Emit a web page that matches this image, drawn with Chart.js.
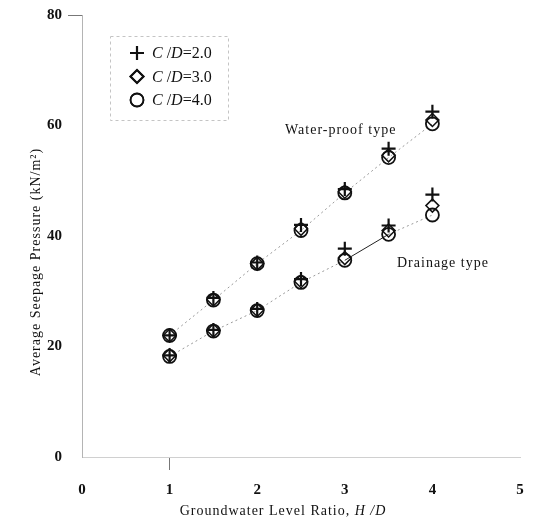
<!DOCTYPE html>
<html>
<head>
<meta charset="utf-8">
<script src="https://cdn.jsdelivr.net/npm/chart.js@4.4.1/dist/chart.umd.min.js"></script>
<style>
    html, body { margin: 0; background: #fff; }
</style>
</head>
<body>
<canvas id="seepageChart" width="537" height="522"></canvas>
<script>
// groundwater level ratio H/D
const hdRatio = [1, 1.5, 2, 2.5, 3, 3.5, 4];

// Water-proof type, average seepage pressure (kN/m2)
const waterCd2 = [22, 28.8, 35.2, 42, 48.5, 55.8, 62.5];
const waterCd3 = [22, 28.5, 35, 41.3, 48, 54.6, 61];
const waterCd4 = [22, 28.4, 35, 41, 47.8, 54.2, 60.3];

// Drainage type
const drainCd2 = [18.4, 23, 26.8, 32.2, 37.7, 41.9, 47.5];
const drainCd3 = [18.4, 22.9, 26.6, 31.8, 36, 41, 45.5];
const drainCd4 = [18.2, 22.8, 26.5, 31.6, 35.6, 40.3, 43.8];

const cdLabels = ["2.0", "3.0", "4.0"];
const xTicks = [0, 1, 2, 3, 4, 5];
const yTicks = [0, 20, 40, 60, 80];

const serif = "'Liberation Serif', 'DejaVu Serif', serif";
const ink = "#111";

const pts = (ys) => ys.map((y, i) => ({ x: hdRatio[i], y }));

// marker style per C/D
const markers = [
    { pointStyle: "cross", pointRadius: 7, pointBorderWidth: 2.2, order: 1 },
    { pointStyle: "rectRot", pointRadius: 6.5, pointBorderWidth: 1.5, order: 2 },
    { pointStyle: "circle", pointRadius: 6.5, pointBorderWidth: 1.8, order: 3 },
];

function series(values, k, line) {
    return {
        label: "C/D=" + cdLabels[k],
        data: pts(values),
        ...markers[k],
        pointBackgroundColor: "rgba(0,0,0,0)",
        pointBorderColor: ink,
        showLine: !!line,
        borderColor: "#999",
        borderWidth: 1,
        borderDash: [2, 3],
        ...(line || {}),
    };
}

// drainage line: solid between H/D 3 and 3.5, dotted elsewhere
const drainSegment = {
    segment: {
        borderColor: (c) => (c.p0.parsed.x === 3 ? "#222" : "#999"),
        borderDash: (c) => (c.p0.parsed.x === 3 ? [] : [2, 3]),
    },
};

function richText(ctx, parts, x, y, size, align) {
    let w = 0;
    parts.forEach((p) => {
        ctx.font = (p.i ? "italic " : "") + size + "px " + serif;
        w += ctx.measureText(p.t).width;
    });
    let cx = align === "center" ? x - w / 2 : x;
    parts.forEach((p) => {
        ctx.font = (p.i ? "italic " : "") + size + "px " + serif;
        ctx.fillText(p.t, cx, y);
        cx += ctx.measureText(p.t).width;
    });
}

const decor = {
    id: "decor",
    afterDraw(chart) {
        const { ctx } = chart;
        ctx.save();
        ctx.fillStyle = ink;
        ctx.textBaseline = "middle";
        ctx.textAlign = "left";

        // legend box
        ctx.strokeStyle = "#c4c4c4";
        ctx.lineWidth = 1;
        ctx.setLineDash([3, 3]);
        ctx.strokeRect(110.5, 36.5, 118, 84);
        ctx.setLineDash([]);

        cdLabels.forEach((lab, k) => {
            const y = 53 + k * 23.5;
            ctx.strokeStyle = ink;
            ctx.fillStyle = "rgba(0,0,0,0)";
            Chart.helpers.drawPoint(ctx, {
                pointStyle: markers[k].pointStyle,
                radius: markers[k].pointRadius,
                borderWidth: markers[k].pointBorderWidth,
                rotation: 0,
            }, 137, y);
            ctx.lineWidth = markers[k].pointBorderWidth;
            ctx.stroke();
            ctx.fillStyle = ink;
            richText(ctx, [{ t: "C", i: true }, { t: " /" }, { t: "D", i: true }, { t: "=" + lab }], 152, y + 1, 16, "left");
        });

        // annotations
        ctx.letterSpacing = "1px";
        ctx.font = "14px " + serif;
        ctx.fillText("Water-proof type", 285, 130);
        ctx.fillText("Drainage type", 397, 263);

        // x axis title
        richText(ctx, [{ t: "Groundwater Level Ratio, " }, { t: "H /D", i: true }], 283, 511, 14, "center");

        // y axis title
        ctx.translate(36, 262);
        ctx.rotate(-Math.PI / 2);
        richText(ctx, [{ t: "Average Seepage Pressure (kN/m²)" }], 0, 0, 14, "center");
        ctx.restore();
    },
};

new Chart(document.getElementById("seepageChart"), {
    type: "scatter",
    data: {
        datasets: [
            series(waterCd2, 0),
            series(waterCd3, 1),
            series(waterCd4, 2, {}),
            series(drainCd2, 0),
            series(drainCd3, 1),
            series(drainCd4, 2, drainSegment),
        ],
    },
    options: {
        responsive: false,
        animation: false,
        layout: { padding: { top: 14, right: 17, left: 0, bottom: 0 } },
        plugins: {
            legend: { display: false },
            tooltip: { enabled: false },
        },
        scales: {
            x: {
                type: "linear",
                min: 0,
                max: 5,
                afterBuildTicks: (s) => { s.ticks = xTicks.map((v) => ({ value: v })); },
                afterFit: (s) => { s.height = 65; },
                ticks: { color: ink, padding: 11, font: { family: serif, size: 15, weight: "bold" } },
                grid: {
                    drawOnChartArea: false,
                    tickLength: 13,
                    color: (c) => (c.tick && c.tick.value === 1 ? "#777" : "rgba(0,0,0,0)"),
                },
                border: { color: "#d0d0d0", dash: [2, 4] },
            },
            y: {
                min: 0,
                max: 80,
                afterBuildTicks: (s) => { s.ticks = yTicks.map((v) => ({ value: v })); },
                afterFit: (s) => { s.width = 82; },
                ticks: { color: ink, padding: 6, font: { family: serif, size: 15, weight: "bold" } },
                grid: {
                    drawOnChartArea: false,
                    tickLength: 14,
                    color: (c) => (c.tick && c.tick.value === 80 ? "#777" : "rgba(0,0,0,0)"),
                },
                border: { color: "#b4b4b4", dash: [40, 3] },
            },
        },
    },
    plugins: [decor],
});
</script>
</body>
</html>
